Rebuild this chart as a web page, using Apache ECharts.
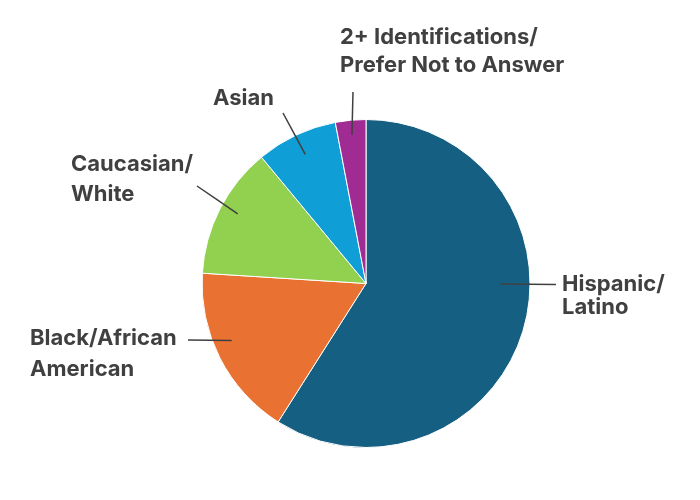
<!DOCTYPE html>
<html>
<head>
<meta charset="utf-8">
<title>Student demographics</title>
<script src="https://cdn.jsdelivr.net/npm/echarts@6/dist/echarts.min.js"></script>
<style>
  html, body { margin: 0; padding: 0; background: #fff; }
  #chart { width: 700px; height: 500px; }
</style>
</head>
<body>
<div id="chart"></div>
<script>
// data
var categories = ['Hispanic/Latino', 'Black/African American', 'Caucasian/White', 'Asian', '2+ Identifications/Prefer Not to Answer'];
var labelTexts = ['Hispanic/\nLatino', 'Black/African\nAmerican', 'Caucasian/\nWhite', 'Asian', '2+ Identifications/\nPrefer Not to Answer'];
var shares = [59, 17, 13, 8, 3];

var colors = ['#156082', '#E97132', '#92D050', '#0F9ED5', '#A02B93'];

// where each label sits (top-left of its text box) and where its leader starts
var labelSpots = [
  { x: 562, y: 273, lineHeight: 23, lineEnd: [556, 284.5], rFrac: 0.82, nudge: -16 },
  { x: 30, y: 323, lineHeight: 31, lineEnd: [188, 340], rFrac: 0.89, nudge: 4 },
  { x: 71, y: 149, lineHeight: 30, lineEnd: [197, 186], rFrac: 0.89, nudge: 1.5 },
  { x: 213, y: 84, lineHeight: 29, lineEnd: [283, 113], rFrac: 0.87, nudge: 0 },
  { x: 340, y: 23, lineHeight: 28, lineEnd: [353, 92], rFrac: 0.91, nudge: 0 }
];

var pieCenter = [366, 283.5];
var pieRadius = 164;

// mid angle of every slice, clockwise from 12 o'clock
var total = shares.reduce(function(a, b) { return a + b; }, 0);
var midAngles = [];
var acc = 0;
for (var i = 0; i < shares.length; i++) {
  midAngles.push((acc + shares[i] / 2) / total * 360);
  acc += shares[i];
}

var pieData = [];
var labelData = [];
for (var i = 0; i < categories.length; i++) {
  pieData.push({
    name: categories[i],
    value: shares[i],
    itemStyle: { color: colors[i] }
  });
  labelData.push({
    name: categories[i],
    value: shares[i],
    label: { lineHeight: labelSpots[i].lineHeight }
  });
}

var myChart = echarts.init(document.getElementById('chart'), null, { renderer: 'canvas' });

var option = {
  animation: false,
  series: [{
    // the visible slices
    type: 'pie',
    z: 2,
    center: pieCenter,
    radius: pieRadius,
    startAngle: 90,
    clockwise: true,
    data: pieData,
    itemStyle: {
      borderColor: '#ffffff',
      borderWidth: 1
    },
    label: { show: false },
    labelLine: { show: false },
    emphasis: { disabled: true },
    silent: true
  }, {
    // same slices, see-through, only here so the labels and leaders sit on top
    type: 'pie',
    z: 5,
    center: pieCenter,
    radius: pieRadius,
    startAngle: 90,
    clockwise: true,
    avoidLabelOverlap: false,
    data: labelData,
    itemStyle: {
      color: 'rgba(0,0,0,0)',
      borderWidth: 0
    },
    label: {
      show: true,
      position: 'outside',
      color: '#404040',
      fontFamily: 'Inter',
      fontWeight: 'bold',
      fontSize: 22,
      formatter: function(p) {
        return labelTexts[p.dataIndex];
      }
    },
    labelLine: {
      show: true,
      length: 10,
      length2: 10,
      lineStyle: { color: '#404040', width: 1.5 }
    },
    labelLayout: function(params) {
      var s = labelSpots[params.dataIndex];
      var a = (midAngles[params.dataIndex] + s.nudge) * Math.PI / 180;
      var r = pieRadius * s.rFrac;
      var inner = [pieCenter[0] + r * Math.sin(a), pieCenter[1] - r * Math.cos(a)];
      var mid = [(inner[0] + s.lineEnd[0]) / 2, (inner[1] + s.lineEnd[1]) / 2];
      return {
        x: s.x,
        y: s.y,
        align: 'left',
        verticalAlign: 'top',
        labelLinePoints: [s.lineEnd, mid, inner]
      };
    },
    emphasis: { disabled: true },
    silent: true
  }]
};

myChart.setOption(option);
</script>
</body>
</html>
